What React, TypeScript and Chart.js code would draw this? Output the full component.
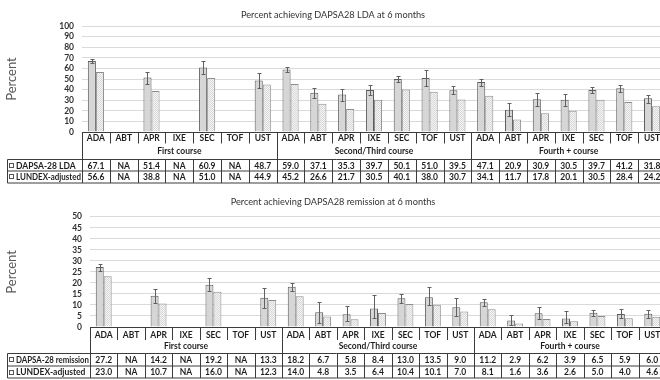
import React, { useEffect, useRef } from "react";
import { Chart, registerables } from "chart.js";

Chart.register(...registerables);

const treatments = ["ADA", "ABT", "APR", "IXE", "SEC", "TOF", "UST"];
const courses = ["First course", "Second/Third course", "Fourth + course"];
const categories = courses.flatMap((c) => treatments.map((t) => t));

const ldaValues = [67.1, null, 51.4, null, 60.9, null, 48.7, 59.0, 37.1, 35.3, 39.7, 50.1, 51.0, 39.5, 47.1, 20.9, 30.9, 30.5, 39.7, 41.2, 31.8];
const ldaLundex = [56.6, null, 38.8, null, 51.0, null, 44.9, 45.2, 26.6, 21.7, 30.5, 40.1, 38.0, 30.7, 34.1, 11.7, 17.8, 20.1, 30.5, 28.4, 24.2];
const ldaErrLow = [65.2, null, 45.5, null, 55.0, null, 41.5, 57.0, 32.0, 29.0, 34.5, 47.0, 43.2, 35.5, 43.2, 15.2, 24.8, 24.8, 37.0, 38.0, 27.5];
const ldaErrHigh = [69.2, null, 56.8, null, 67.0, null, 55.5, 61.0, 41.2, 40.5, 44.8, 53.3, 58.7, 43.3, 50.2, 27.3, 36.9, 35.9, 42.3, 44.2, 35.1];

const remValues = [27.2, null, 14.2, null, 19.2, null, 13.3, 18.2, 6.7, 5.8, 8.4, 13.0, 13.5, 9.0, 11.2, 2.9, 6.2, 3.9, 6.5, 5.9, 6.0];
const remLundex = [23.0, null, 10.7, null, 16.0, null, 12.3, 14.0, 4.8, 3.5, 6.4, 10.4, 10.1, 7.0, 8.1, 1.6, 3.6, 2.6, 5.0, 4.0, 4.6];
const remErrLow = [25.3, null, 10.8, null, 16.3, null, 8.6, 16.5, 2.0, 2.6, 4.1, 11.0, 10.2, 4.8, 9.6, 1.0, 3.8, 1.8, 5.2, 3.9, 3.9];
const remErrHigh = [28.6, null, 17.4, null, 22.0, null, 17.9, 19.8, 11.4, 9.4, 14.4, 15.1, 18.3, 13.1, 12.7, 5.6, 9.1, 7.4, 7.8, 8.0, 7.8];

const FONT = "Lato, 'Open Sans', sans-serif";

type PanelProps = {
  title: string;
  yMax: number;
  step: number;
  main: (number | null)[];
  lundex: (number | null)[];
  lo: (number | null)[];
  hi: (number | null)[];
  mainLabel: string;
  lundexLabel: string;
  axisWidth: number;
  titlePad: { top: number; bottom: number };
  padBottom: number;
  geo: { catY: number; catDivH: number; groupY: number; rowTop: number; rowH: number };
};

function fitText(ctx: CanvasRenderingContext2D, text: string, x: number, y: number, maxW: number) {
  const m = ctx.measureText(text).width;
  if (m <= maxW) {
    ctx.fillText(text, x, y);
    return;
  }
  const s = maxW / m;
  ctx.save();
  ctx.translate(x, y);
  ctx.scale(s, 1);
  ctx.fillText(text, 0, 0);
  ctx.restore();
}

function Panel(props: PanelProps) {
  const ref = useRef<HTMLCanvasElement | null>(null);
  useEffect(() => {
    const canvas = ref.current!;
    const ctx0 = canvas.getContext("2d")!;
    const tile = document.createElement("canvas");
    tile.width = 2;
    tile.height = 2;
    const tg = tile.getContext("2d")!;
    tg.fillStyle = "#f4f4f4";
    tg.fillRect(0, 0, 2, 2);
    tg.fillStyle = "#d8d8d8";
    tg.fillRect(0, 0, 1, 1);
    tg.fillRect(1, 1, 1, 1);
    const pattern = ctx0.createPattern(tile, "repeat")!;

    const errorBars = {
      id: "errorBars",
      afterDatasetsDraw(chart: any) {
        const ctx = chart.ctx;
        const meta = chart.getDatasetMeta(0);
        const y = chart.scales.y;
        ctx.save();
        ctx.strokeStyle = "#606060";
        ctx.lineWidth = 1;
        meta.data.forEach((bar: any, i: number) => {
          const l = props.lo[i];
          const h = props.hi[i];
          if (l == null || h == null || props.main[i] == null) return;
          const x = Math.round(bar.x) + 0.5;
          const y1 = Math.round(y.getPixelForValue(l)) + 0.5;
          const y2 = Math.round(y.getPixelForValue(h)) + 0.5;
          ctx.beginPath();
          ctx.moveTo(x, y1);
          ctx.lineTo(x, y2);
          ctx.moveTo(x - 2, y1);
          ctx.lineTo(x + 2, y1);
          ctx.moveTo(x - 2, y2);
          ctx.lineTo(x + 2, y2);
          ctx.stroke();
        });
        ctx.restore();
      },
    };

    const table = {
      id: "dataTable",
      afterDraw(chart: any) {
        const ctx = chart.ctx;
        const xs = chart.scales.x;
        const ca = chart.chartArea;
        const n = categories.length;
        const left = ca.left;
        const right = ca.right;
        const w = (right - left) / n;
        const b = Math.round(ca.bottom) + 0.5;
        const g = props.geo;
        const legendLeft = 7.5;
        const rowTop = Math.round(b + g.rowTop) + 0.5;
        const rowMid = Math.round(rowTop + g.rowH) + 0.5 - 0.5;
        const rowBot = Math.round(rowTop + 2 * g.rowH) + 0.5 - 0.5;
        ctx.save();
        ctx.strokeStyle = "#3c3c3c";
        ctx.lineWidth = 1;
        ctx.beginPath();
        ctx.moveTo(left, b);
        ctx.lineTo(right, b);
        [rowTop, rowMid, rowBot].forEach((yy) => {
          ctx.moveTo(legendLeft, yy);
          ctx.lineTo(right, yy);
        });
        ctx.moveTo(legendLeft, rowTop);
        ctx.lineTo(legendLeft, rowBot);
        for (let k = 0; k <= n; k++) {
          const xx = Math.round(left + k * w) + 0.5;
          if (k % treatments.length === 0) {
            ctx.moveTo(xx, b);
            ctx.lineTo(xx, rowBot);
          } else {
            ctx.moveTo(xx, b);
            ctx.lineTo(xx, b + g.catDivH);
            ctx.moveTo(xx, rowTop);
            ctx.lineTo(xx, rowBot);
          }
        }
        ctx.stroke();

        ctx.fillStyle = "#1e1e1e";
        ctx.textAlign = "center";
        ctx.textBaseline = "middle";
        ctx.font = `bold 8.5px ${FONT}`;
        categories.forEach((c, i) => {
          const cx = xs.getPixelForValue(i);
          ctx.fillText(c, cx, b + g.catY);
          const v1 = props.main[i];
          const v2 = props.lundex[i];
          ctx.fillText(v1 == null ? "NA" : v1.toFixed(1), cx, rowTop + g.rowH / 2 + 0.5);
          ctx.fillText(v2 == null ? "NA" : v2.toFixed(1), cx, rowMid + g.rowH / 2 + 0.5);
        });
        courses.forEach((c, j) => {
          const x0 = left + j * treatments.length * w;
          const x1 = left + (j + 1) * treatments.length * w;
          ctx.fillText(c, (x0 + x1) / 2, b + g.groupY);
        });
        ctx.textAlign = "left";
        [[props.mainLabel, rowTop], [props.lundexLabel, rowMid]].forEach(([lab, yy]: any) => {
          const cy = yy + g.rowH / 2;
          ctx.strokeStyle = "#555";
          ctx.strokeRect(9.5, Math.round(cy - 2.5) + 0.5, 4, 4);
          fitText(ctx, lab, 16, cy + 0.5, left - 17);
        });
        ctx.restore();
      },
    };

    const chart = new Chart(canvas, {
      type: "bar",
      data: {
        labels: categories,
        datasets: [
          {
            label: props.mainLabel,
            data: props.main as any,
            backgroundColor: "#d6d6d6",
            borderColor: "#5c5c5c",
            borderWidth: 1,
            categoryPercentage: 0.58,
            barPercentage: 1,
          },
          {
            label: props.lundexLabel,
            data: props.lundex as any,
            backgroundColor: pattern as any,
            borderColor: "#8c8c8c",
            borderWidth: 1,
            categoryPercentage: 0.58,
            barPercentage: 1,
          },
        ],
      },
      options: {
        responsive: false,
        animation: false,
        devicePixelRatio: 1,
        layout: { padding: { left: 0, right: 2, top: 0, bottom: props.padBottom } },
        plugins: {
          legend: { display: false },
          tooltip: { enabled: false },
          title: {
            display: true,
            text: props.title,
            color: "#333333",
            font: { family: FONT, size: 9.2, weight: "normal" as any },
            padding: props.titlePad,
          },
        },
        scales: {
          x: { display: false },
          y: {
            min: 0,
            max: props.yMax,
            ticks: {
              stepSize: props.step,
              autoSkip: false,
              color: "#303030",
              font: { family: FONT, size: 8.5, weight: "bold" as any },
              padding: 8,
            },
            grid: { color: "#dadada", drawTicks: false },
            border: { display: false },
            title: {
              display: true,
              text: "Percent",
              color: "#595959",
              font: { family: FONT, size: 13 },
              padding: { top: 4, bottom: 0 },
            },
            afterFit(scale: any) {
              scale.width = props.axisWidth;
            },
          },
        },
      },
      plugins: [errorBars, table],
    });
    return () => chart.destroy();
  }, []);
  return <canvas ref={ref} width={668} height={190} style={{ display: "block" }} />;
}

export default function App() {
  return (
    <div
      style={{
        position: "absolute",
        left: 0,
        top: 0,
        width: 660,
        height: 380,
        overflow: "hidden",
        background: "#ffffff",
      }}
    >
      <Panel
        title="Percent achieving DAPSA28 LDA at 6 months"
        yMax={100}
        step={10}
        main={ldaValues}
        lundex={ldaLundex}
        lo={ldaErrLow}
        hi={ldaErrHigh}
        mainLabel="DAPSA-28 LDA"
        lundexLabel="LUNDEX-adjusted"
        axisWidth={82}
        titlePad={{ top: 10, bottom: 5 }}
        padBottom={58}
        geo={{ catY: 6, catDivH: 11, groupY: 18.5, rowTop: 26, rowH: 11.7 }}
      />
      <Panel
        title="Percent achieving DAPSA28 remission at 6 months"
        yMax={50}
        step={5}
        main={remValues}
        lundex={remLundex}
        lo={remErrLow}
        hi={remErrHigh}
        mainLabel="DAPSA-28 remission"
        lundexLabel="LUNDEX-adjusted"
        axisWidth={90}
        titlePad={{ top: 7, bottom: 8.7 }}
        padBottom={53}
        geo={{ catY: 7.5, catDivH: 12.5, groupY: 18.5, rowTop: 25.4, rowH: 12 }}
      />
    </div>
  );
}
